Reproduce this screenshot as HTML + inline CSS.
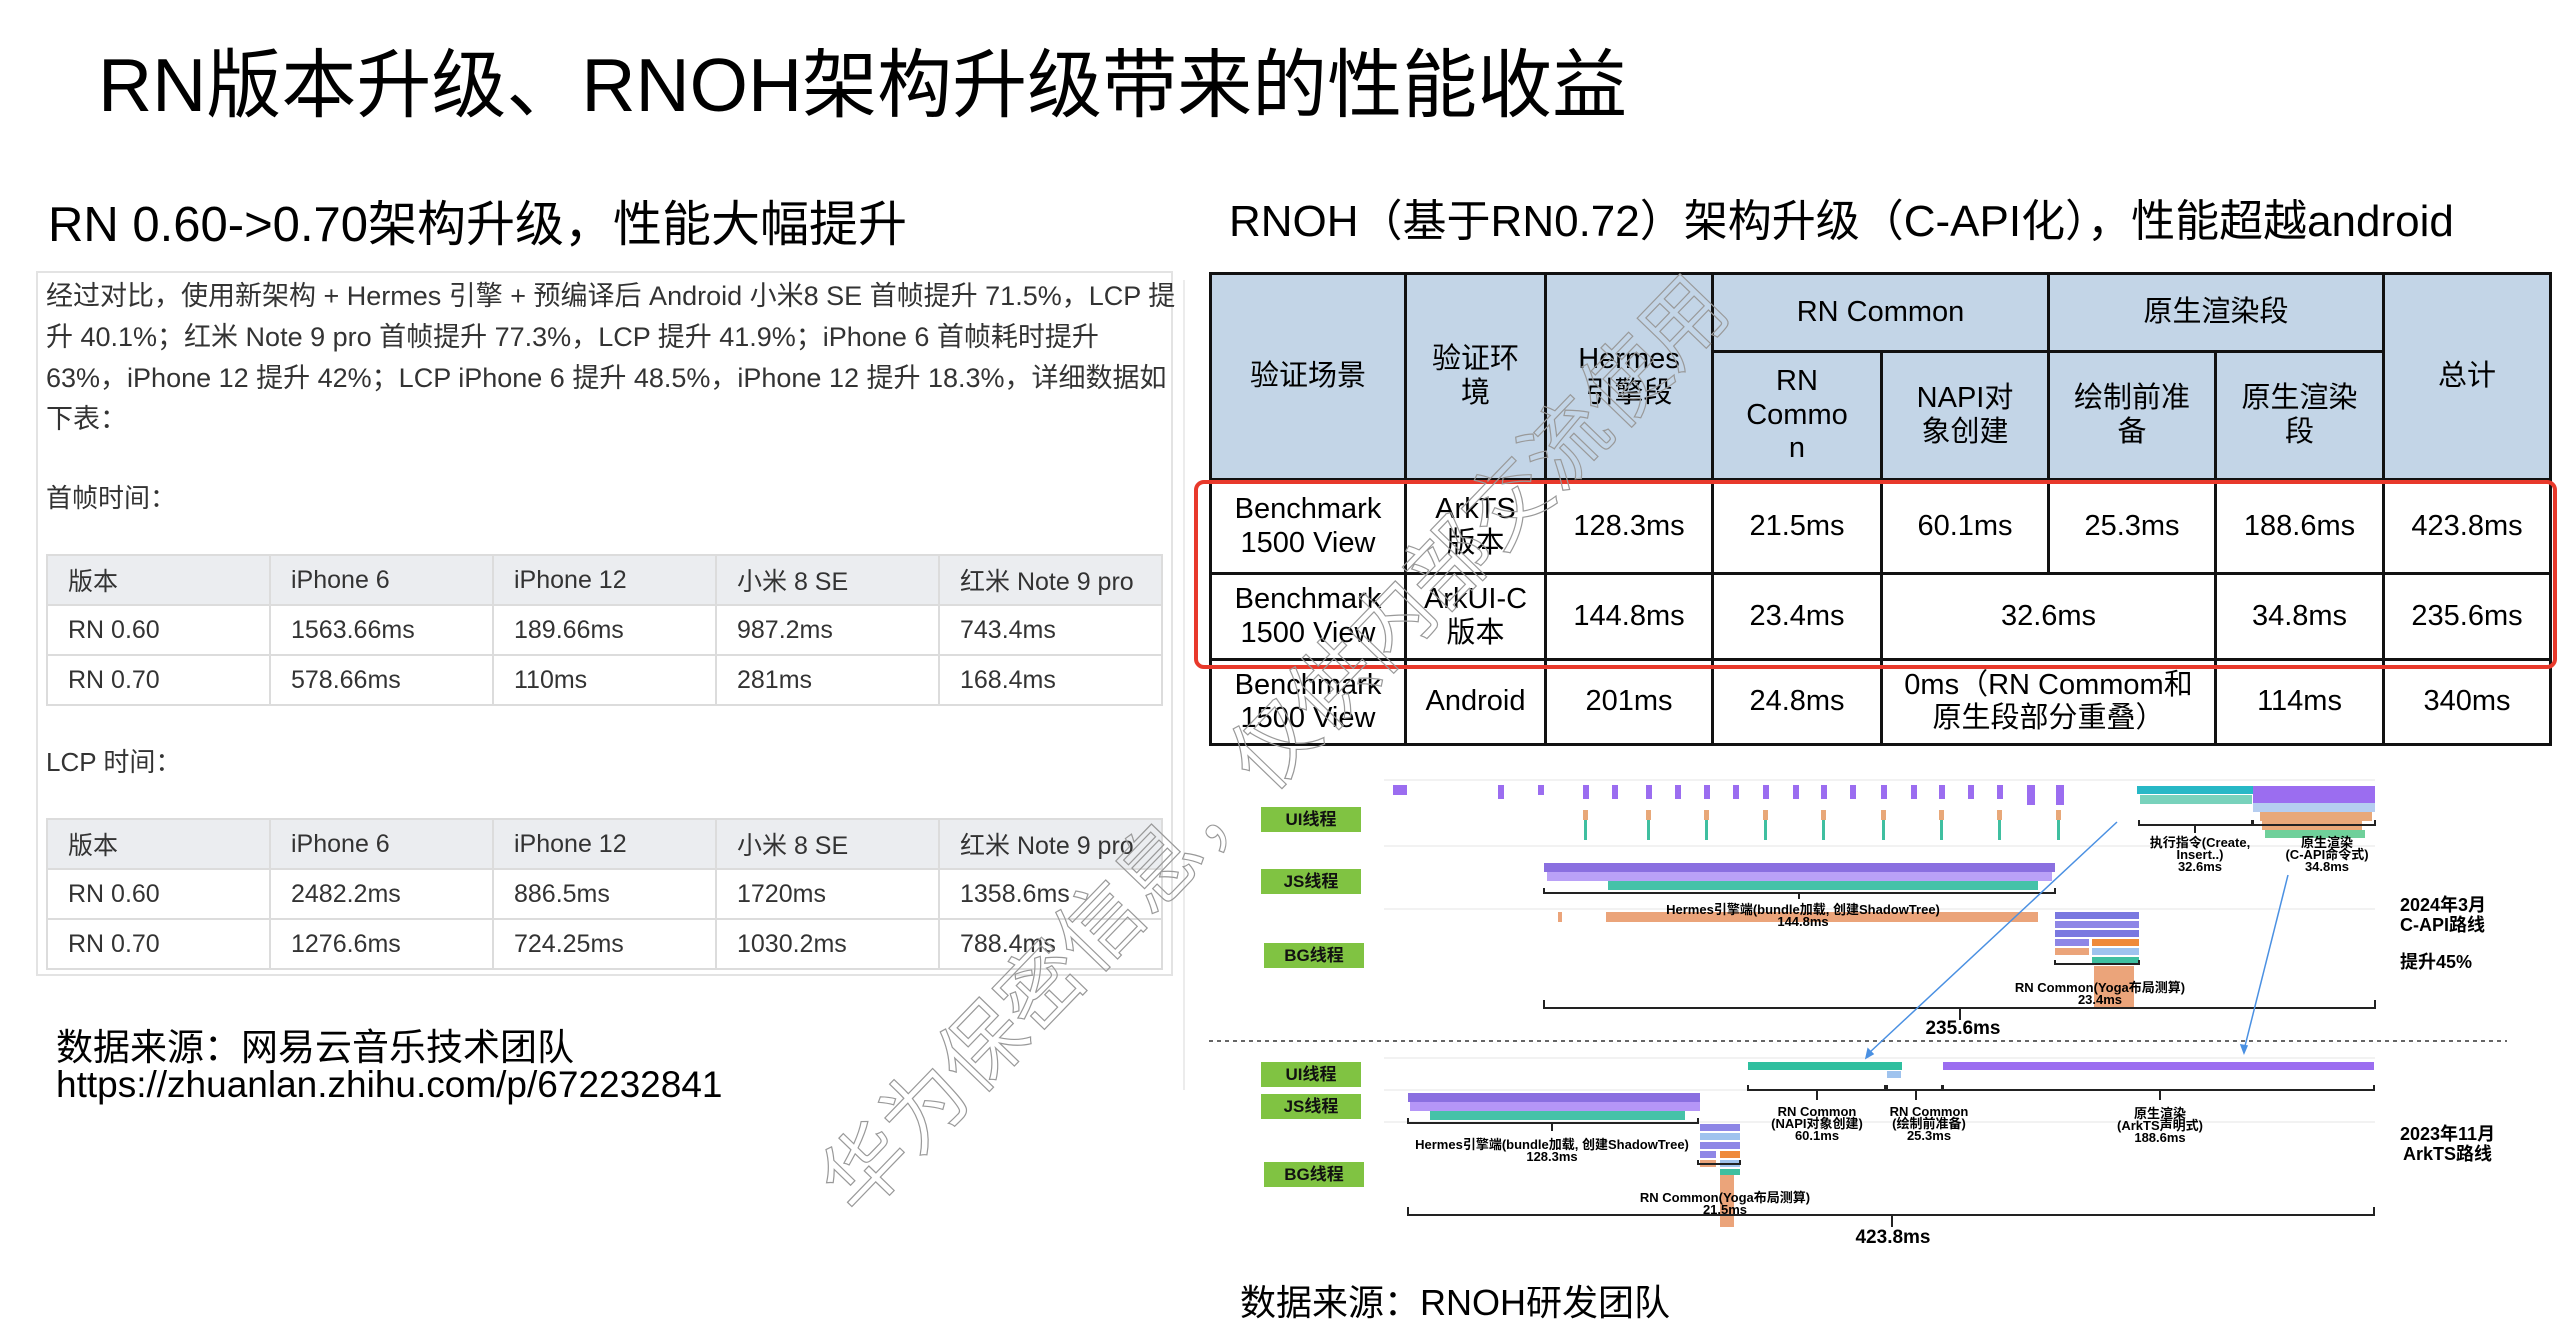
<!DOCTYPE html>
<html><head><meta charset="utf-8">
<style>
*{margin:0;padding:0;box-sizing:border-box}
body{width:2576px;height:1336px;background:#fff;position:relative;overflow:hidden;font-family:"Liberation Sans","Noto Sans CJK SC",sans-serif;color:#000}
.a{position:absolute;white-space:nowrap}
.box{position:absolute;left:36px;top:271px;width:1137px;height:705px;border:2px solid #e3e3e3}
.lt{position:absolute;left:46px;width:1117px;border-collapse:collapse;font-size:25px;color:#333;table-layout:fixed}
.lt td{border:2px solid #dcdcdc;height:50px;padding-left:20px}
.lt tr:first-child td{background:#ebedf0}
.rt{position:absolute;left:1209px;top:272px;width:1340px;border-collapse:collapse;table-layout:fixed;font-size:29px;text-align:center;line-height:1.15}
.rt td{border:3px solid #111}
.rt .h td{background:#c3d5e7}
.lab{position:absolute;background:#80c342;color:#111;font-weight:bold;font-size:17px;text-align:center;line-height:25px;width:100px;height:25px}
.ct{position:absolute;font-size:13px;font-weight:bold;text-align:center;white-space:nowrap;line-height:12px;transform:translateX(-50%)}
</style></head><body>
<div class="a" style="left:98px;top:40px;font-size:75px;line-height:90px">RN版本升级、RNOH架构升级带来的性能收益</div>
<div class="a" style="left:48px;top:195px;font-size:49px;line-height:60px">RN 0.60-&gt;0.70架构升级，性能大幅提升</div>
<div class="a" style="left:1229px;top:192px;font-size:44px;line-height:60px">RNOH（基于RN0.72）架构升级（C-API化），性能超越android</div>

<div class="box"></div>
<div class="a" style="left:46px;top:276px;font-size:27px;line-height:41px;color:#333;white-space:normal;width:1130px">经过对比，使用新架构 + Hermes 引擎 + 预编译后 Android 小米8 SE 首帧提升 71.5%，LCP 提升 40.1%；红米 Note 9 pro 首帧提升 77.3%，LCP 提升 41.9%；iPhone 6 首帧耗时提升 63%，iPhone 12 提升 42%；LCP iPhone 6 提升 48.5%，iPhone 12 提升 18.3%，详细数据如下表：</div>
<div class="a" style="left:46px;top:478px;font-size:26px;color:#333">首帧时间：</div>
<table class="lt" style="top:554px">
<tr><td>版本</td><td>iPhone 6</td><td>iPhone 12</td><td>小米 8 SE</td><td>红米 Note 9 pro</td></tr>
<tr><td>RN 0.60</td><td>1563.66ms</td><td>189.66ms</td><td>987.2ms</td><td>743.4ms</td></tr>
<tr><td>RN 0.70</td><td>578.66ms</td><td>110ms</td><td>281ms</td><td>168.4ms</td></tr>
</table>
<div class="a" style="left:46px;top:742px;font-size:26px;color:#333">LCP 时间：</div>
<table class="lt" style="top:818px">
<tr><td>版本</td><td>iPhone 6</td><td>iPhone 12</td><td>小米 8 SE</td><td>红米 Note 9 pro</td></tr>
<tr><td>RN 0.60</td><td>2482.2ms</td><td>886.5ms</td><td>1720ms</td><td>1358.6ms</td></tr>
<tr><td>RN 0.70</td><td>1276.6ms</td><td>724.25ms</td><td>1030.2ms</td><td>788.4ms</td></tr>
</table>
<div class="a" style="left:56px;top:1017px;font-size:37px">数据来源：网易云音乐技术团队</div>
<div class="a" style="left:56px;top:1064px;font-size:37px">https://zhuanlan.zhihu.com/p/672232841</div>
<div class="a" style="left:1183px;top:280px;width:2px;height:810px;background:#ececec"></div>

<table class="rt">
<colgroup><col style="width:195px"><col style="width:140px"><col style="width:167px"><col style="width:169px"><col style="width:167px"><col style="width:167px"><col style="width:168px"><col style="width:167px"></colgroup>
<tr class="h" style="height:78px"><td rowspan="2">验证场景</td><td rowspan="2">验证环<br>境</td><td rowspan="2">Hermes<br>引擎段</td><td colspan="2">RN Common</td><td colspan="2">原生渲染段</td><td rowspan="2">总计</td></tr>
<tr class="h" style="height:128px"><td>RN<br>Commo<br>n</td><td>NAPI对<br>象创建</td><td>绘制前准<br>备</td><td>原生渲染<br>段</td></tr>
<tr style="height:94px"><td>Benchmark<br>1500 View</td><td>ArkTS<br>版本</td><td>128.3ms</td><td>21.5ms</td><td>60.1ms</td><td>25.3ms</td><td>188.6ms</td><td>423.8ms</td></tr>
<tr style="height:86px"><td>Benchmark<br>1500 View</td><td>ArkUI-C<br>版本</td><td>144.8ms</td><td>23.4ms</td><td colspan="2">32.6ms</td><td>34.8ms</td><td>235.6ms</td></tr>
<tr style="height:85px"><td>Benchmark<br>1500 View</td><td>Android</td><td>201ms</td><td>24.8ms</td><td colspan="2">0ms（RN Commom和<br>原生段部分重叠）</td><td>114ms</td><td>340ms</td></tr>
</table>
<div class="a" style="left:1194px;top:480px;width:1363px;height:189px;border:4px solid #e8392b;border-radius:10px"></div>

<svg class="a" style="left:0;top:0" width="2576" height="1336">
<g stroke="#e6e6e6" stroke-width="1">
<line x1="1384" y1="780" x2="2375" y2="780"/><line x1="1384" y1="846" x2="2375" y2="846"/><line x1="1384" y1="909" x2="2375" y2="909"/>
<line x1="1384" y1="1058" x2="2375" y2="1058"/><line x1="1384" y1="1090" x2="2375" y2="1090"/><line x1="1384" y1="1122" x2="2375" y2="1122"/>
</g>
<rect x="1393" y="785" width="14" height="10" fill="#9b6df0"/>
<rect x="1538" y="785" width="6" height="10" fill="#9b6df0"/>
<g fill="#9b6df0">
<rect x="1498" y="785" width="6" height="14"/><rect x="1583" y="785" width="6" height="14"/><rect x="1612" y="785" width="6" height="14"/><rect x="1646" y="785" width="6" height="14"/><rect x="1675" y="785" width="6" height="14"/><rect x="1704" y="785" width="6" height="14"/><rect x="1733" y="785" width="6" height="14"/><rect x="1763" y="785" width="6" height="14"/><rect x="1793" y="785" width="6" height="14"/><rect x="1821" y="785" width="6" height="14"/><rect x="1850" y="785" width="6" height="14"/><rect x="1881" y="785" width="6" height="14"/><rect x="1911" y="785" width="6" height="14"/><rect x="1939" y="785" width="6" height="14"/><rect x="1968" y="785" width="6" height="14"/><rect x="1997" y="785" width="6" height="14"/><rect x="2027" y="785" width="8" height="20"/><rect x="2056" y="785" width="8" height="20"/>
</g>
<g fill="#e8a879">
<rect x="1583" y="810" width="5" height="10"/><rect x="1646" y="810" width="5" height="10"/><rect x="1704" y="810" width="5" height="10"/><rect x="1763" y="810" width="5" height="10"/><rect x="1821" y="810" width="5" height="10"/><rect x="1881" y="810" width="5" height="10"/><rect x="1939" y="810" width="5" height="10"/><rect x="1997" y="810" width="5" height="10"/><rect x="2056" y="810" width="5" height="10"/>
</g>
<g fill="#3fbfa0">
<rect x="1584" y="820" width="3" height="20"/><rect x="1647" y="820" width="3" height="20"/><rect x="1705" y="820" width="3" height="20"/><rect x="1764" y="820" width="3" height="20"/><rect x="1822" y="820" width="3" height="20"/><rect x="1882" y="820" width="3" height="20"/><rect x="1940" y="820" width="3" height="20"/><rect x="1998" y="820" width="3" height="20"/><rect x="2057" y="820" width="3" height="20"/>
</g>
<rect x="2137" y="786" width="116" height="8" fill="#27b8c6"/>
<rect x="2140" y="795" width="112" height="9" fill="#3fbfa0" opacity=".7"/>
<rect x="2253" y="786" width="122" height="17" fill="#9b6df0"/>
<rect x="2253" y="803" width="122" height="9" fill="#b5cdf0"/>
<rect x="2260" y="812" width="112" height="9" fill="#e8a879"/>
<rect x="2262" y="821" width="100" height="9" fill="#e8a879"/>
<rect x="2265" y="830" width="100" height="8" fill="#6fd09a"/>
<rect x="1544" y="863" width="511" height="9" fill="#8a6fe0"/>
<rect x="1547" y="872" width="505" height="9" fill="#a98af5" opacity=".8"/>
<rect x="1608" y="881" width="430" height="9" fill="#45c2a8"/>
<rect x="1606" y="912" width="432" height="10" fill="#eba47a"/>
<rect x="1558" y="912" width="4" height="10" fill="#eba47a"/>
<rect x="2055" y="912" width="84" height="7" fill="#7a78e0"/>
<rect x="2055" y="921" width="84" height="7" fill="#8e86e6"/>
<rect x="2055" y="930" width="84" height="7" fill="#7a78e0"/>
<rect x="2055" y="939" width="34" height="7" fill="#8e86e6"/><rect x="2092" y="939" width="47" height="7" fill="#ef8a3a"/>
<rect x="2055" y="948" width="34" height="7" fill="#eba47a"/><rect x="2092" y="948" width="47" height="7" fill="#9fc3ee"/>
<rect x="2092" y="957" width="47" height="7" fill="#3fbfa0"/>
<rect x="2094" y="966" width="40" height="42" fill="#eba47a"/>
<rect x="1748" y="1062" width="154" height="8" fill="#2fbf9f"/>
<rect x="1887" y="1071" width="14" height="7" fill="#9fc3ee"/>
<rect x="1943" y="1062" width="431" height="8" fill="#9b6df0"/>
<rect x="1408" y="1093" width="292" height="9" fill="#8a6fe0"/>
<rect x="1410" y="1102" width="290" height="9" fill="#b596f7"/>
<rect x="1430" y="1111" width="255" height="9" fill="#45c2a8"/>
<rect x="1700" y="1124" width="40" height="7" fill="#8e86e6"/>
<rect x="1700" y="1133" width="40" height="7" fill="#9fc3ee"/>
<rect x="1700" y="1142" width="40" height="7" fill="#8e86e6"/>
<rect x="1700" y="1151" width="16" height="7" fill="#8e86e6"/><rect x="1720" y="1151" width="20" height="7" fill="#ef8a3a"/>
<rect x="1700" y="1160" width="16" height="7" fill="#eba47a"/><rect x="1720" y="1160" width="20" height="7" fill="#9fc3ee"/>
<rect x="1720" y="1169" width="20" height="6" fill="#3fbfa0"/>
<rect x="1720" y="1175" width="14" height="52" fill="#eba47a"/>
<g stroke="#222" stroke-width="2" fill="none">
<path d="M1544 888v5h511v-5M1799 893v6"/>
<path d="M1544 1000v8h831v-8M1960 1008v12"/>
<path d="M2139 820v5h113v-5M2195 825v8"/>
<path d="M2253 820v5h122v-5"/>
<path d="M2055 960v4h84v-4"/>
<path d="M1408 1118v5h290v-5M1552 1123v8"/>
<path d="M1748 1085v5h137v-5M1817 1090v10"/>
<path d="M1887 1085v5h55v-5M1916 1090v10"/>
<path d="M1943 1085v5h431v-5M2160 1090v10"/>
<path d="M1408 1207v8h966v-8M1892 1215v12"/>
<path d="M1698 1160v4h42v-4"/>
</g>
<line x1="1209" y1="1041" x2="2507" y2="1041" stroke="#666" stroke-width="2" stroke-dasharray="4,4"/>
<g stroke="#4a90e2" stroke-width="1.5" fill="#4a90e2">
<line x1="2117" y1="822" x2="1869" y2="1053"/><path d="M1866 1058l2-9 5 5z"/>
<line x1="2288" y1="875" x2="2245" y2="1046"/><path d="M2244 1053l-3-8 6 1z"/>
</g>
</svg>
<div class="lab" style="left:1261px;top:807px">UI线程</div>
<div class="lab" style="left:1261px;top:869px">JS线程</div>
<div class="lab" style="left:1264px;top:943px">BG线程</div>
<div class="lab" style="left:1261px;top:1062px">UI线程</div>
<div class="lab" style="left:1261px;top:1094px">JS线程</div>
<div class="lab" style="left:1264px;top:1162px">BG线程</div>
<div class="ct" style="left:1803px;top:904px">Hermes引擎端(bundle加载, 创建ShadowTree)<br>144.8ms</div>
<div class="ct" style="left:2100px;top:982px">RN Common(Yoga布局测算)<br>23.4ms</div>
<div class="ct" style="left:1963px;top:1019px;font-size:19px;line-height:20px">235.6ms</div>
<div class="ct" style="left:2200px;top:837px">执行指令(Create,<br>Insert..)<br>32.6ms</div>
<div class="ct" style="left:2327px;top:837px">原生渲染<br>(C-API命令式)<br>34.8ms</div>
<div class="a" style="left:2400px;top:895px;font-size:18px;font-weight:bold;line-height:20px">2024年3月<br>C-API路线</div>
<div class="a" style="left:2400px;top:948px;font-size:18px;font-weight:bold">提升45%</div>
<div class="ct" style="left:1817px;top:1106px">RN Common<br>(NAPI对象创建)<br>60.1ms</div>
<div class="ct" style="left:1929px;top:1106px">RN Common<br>(绘制前准备)<br>25.3ms</div>
<div class="ct" style="left:2160px;top:1108px">原生渲染<br>(ArkTS声明式)<br>188.6ms</div>
<div class="ct" style="left:1552px;top:1139px">Hermes引擎端(bundle加载, 创建ShadowTree)<br>128.3ms</div>
<div class="ct" style="left:1725px;top:1192px">RN Common(Yoga布局测算)<br>21.5ms</div>
<div class="ct" style="left:1893px;top:1228px;font-size:19px;line-height:20px">423.8ms</div>
<div class="a" style="left:2400px;top:1124px;font-size:18px;font-weight:bold;line-height:20px;text-align:center">2023年11月<br>ArkTS路线</div>

<div class="a" style="left:1240px;top:1274px;font-size:36px">数据来源：RNOH研发团队</div>

<div class="a" style="left:910px;top:680px;font-size:84px;color:transparent;-webkit-text-stroke:1.2px #999;transform:rotate(-46deg);transform-origin:50% 50%;width:1320px;margin-left:-300px;text-align:center">华为保密信息，仅供内部交流使用</div>
</body></html>
